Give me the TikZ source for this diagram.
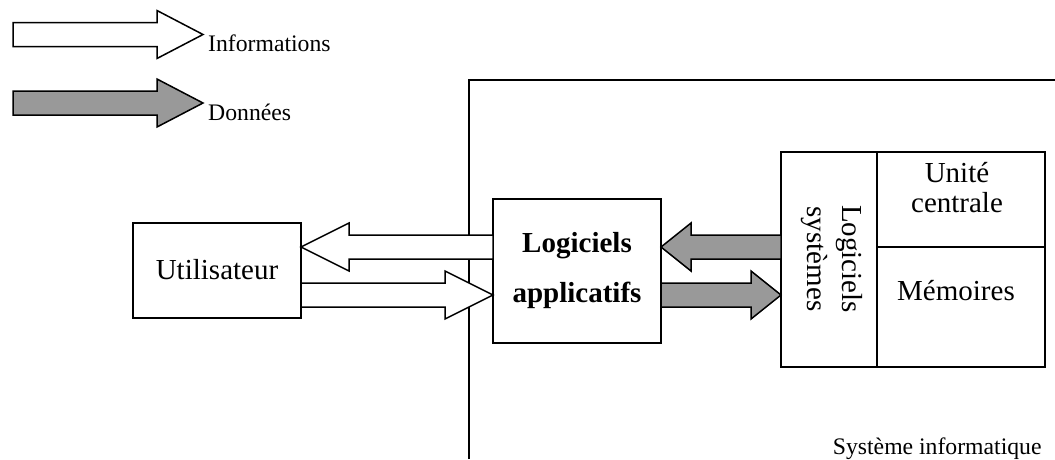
\documentclass[tikz,border=0pt]{standalone}
\usepackage{fontspec}
\setmainfont{Liberation Serif}
\usetikzlibrary{calc}
\def\fatarrow[#1](#2)(#3)(#4){\draw[#1] let \p1=(#2), \p2=(#3), \n1={ifthenelse(\x2>\x1,1,-1)*#4} in (\x1,\y1+12pt) -- ({\x2-\n1*1pt},\y1+12pt) -- ({\x2-\n1*1pt},\y1+24pt) -- (\x2,\y1) -- ({\x2-\n1*1pt},\y1-24pt) -- ({\x2-\n1*1pt},\y1-12pt) -- (\x1,\y1-12pt) -- cycle;}
\tikzset{
  box/.style={draw, line width=1.5pt, inner sep=0pt, outer sep=0pt, align=center, font=\fontsize{29}{35}\selectfont},
  txt/.style={inner sep=0pt, align=center, font=\fontsize{29}{35}\selectfont},
  small/.style={inner sep=0pt, font=\fontsize{23.7}{28}\selectfont},
  info/.style={line width=1.5pt, fill=white},
  data/.style={line width=1.5pt, fill=black!40}
}
\begin{document}
\begin{tikzpicture}[x=1pt, y=-1pt]
			%%%%% START %%%%%
			\useasboundingbox (0,0) rectangle (1055,459);
			
			% legende
			\coordinate (infostart) at (13,34.5);
			\coordinate (infotip) at (203,34.5);
			\node[small, anchor=base west] (infolbl) at (208,51.7) {Informations};
			\fatarrow[info](infostart)(infotip)(46);
			
			\coordinate (datastart) at (13,103);
			\coordinate (datatip) at (203,103);
			\node[small, anchor=base west] (datalbl) at (208,120) {Données};
			\fatarrow[data](datastart)(datatip)(46);
			
			% systeme informatique
			\draw[line width=1.5pt] (469,459) -- (469,80) -- (1055,80);
			\node[small, anchor=base west] (systxt) at (832.7,454) {Système informatique};
			
			\node[box, minimum width=168pt, minimum height=95pt, text depth=.25em] (user) at (217,270.5) {Utilisateur};
			\node[box, minimum width=168pt, minimum height=144pt, font=\fontsize{29}{50}\selectfont\bfseries] (applis) at (577,271) {Logiciels\\applicatifs};
			
			\node[box, minimum width=96pt, minimum height=215pt] (os) at (829,259.5) {};
			\node[box, minimum width=168pt, minimum height=95pt] (cpu) at (961,199.5) {};
			\node[box, minimum width=168pt, minimum height=120pt] (mem) at (961,307) {};
			
			\node[txt, rotate=-90] (ostxt) at (832,259) {Logiciels\\systèmes};
			\node[txt, font=\fontsize{29}{30}\selectfont] (cputxt) at (957,188) {Unité\\centrale};
			\node[txt, anchor=base] (memtxt) at (956,300.7) {Mémoires};
			
			% fleches
			\coordinate (up) at ($(applis.west)+(0,-24)$);
			\coordinate (down) at ($(user.east |- applis.west)+(0,24)$);
			\fatarrow[info](up)(user.east |- up)(48);
			\fatarrow[info](down)(applis.west |- down)(48);
			
			\coordinate (osup) at ($(os.west |- applis.east)+(0,-24)$);
			\coordinate (osdown) at ($(applis.east)+(0,24)$);
			\fatarrow[data](osup)(applis.east |- osup)(30);
			\fatarrow[data](osdown)(os.west |- osdown)(30);
			
			%%%%% END %%%%%
		\end{tikzpicture}
\end{document}
